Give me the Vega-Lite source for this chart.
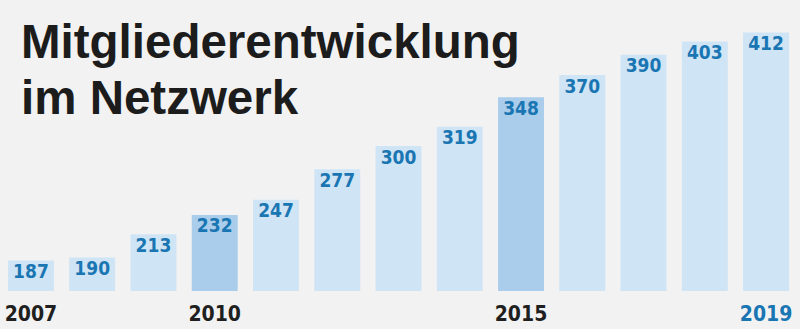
{
  "$schema": "https://vega.github.io/schema/vega-lite/v6.json",
  "autosize": "none",
  "width": 797,
  "height": 291,
  "padding": {"left": 0, "top": 0, "right": 3, "bottom": 38},
  "background": "#f2f2f2",
  "title": {
    "text": ["Mitgliederentwicklung", "im Netzwerk"],
    "anchor": "start",
    "frame": "group",
    "orient": "top",
    "font": "Liberation Sans",
    "fontSize": 47.5,
    "fontWeight": "bold",
    "color": "#1c1c1c",
    "lineHeight": 56,
    "baseline": "alphabetic",
    "offset": 0,
    "dx": 21,
    "dy": 161
  },
  "data": {
    "values": [
      {"year": 2007, "value": 187},
      {"year": 2008, "value": 190},
      {"year": 2009, "value": 213},
      {"year": 2010, "value": 232},
      {"year": 2011, "value": 247},
      {"year": 2012, "value": 277},
      {"year": 2013, "value": 300},
      {"year": 2014, "value": 319},
      {"year": 2015, "value": 348},
      {"year": 2016, "value": 370},
      {"year": 2017, "value": 390},
      {"year": 2018, "value": 403},
      {"year": 2019, "value": 412}
    ]
  },
  "encoding": {
    "x": {
      "field": "year",
      "type": "ordinal",
      "scale": {"paddingInner": 0.25, "paddingOuter": 0.13},
      "axis": {
        "title": null,
        "domain": false,
        "ticks": false,
        "tickSize": 0,
        "labelAngle": 0,
        "labelFont": "DejaVu Sans Condensed",
        "labelFontWeight": "bold",
        "labelFontSize": 21,
        "labelBaseline": "alphabetic",
        "labelPadding": 29,
        "labelExpr": "indexof([2007, 2010, 2015, 2019], +datum.value) >= 0 ? datum.label : ''",
        "labelColor": {"condition": {"test": "+datum.value == 2019", "value": "#1a76b3"}, "value": "#1f1f1f"}
      }
    },
    "y": {
      "field": "value",
      "type": "quantitative",
      "scale": {"domain": [157, 444], "zero": false, "nice": false},
      "axis": null
    }
  },
  "layer": [
    {
      "mark": {"type": "bar"},
      "encoding": {
        "y2": {"datum": 157},
        "color": {
          "condition": {"test": "datum.year == 2010 || datum.year == 2015", "value": "#a9cdea"},
          "value": "#cfe4f4"
        }
      }
    },
    {
      "mark": {
        "type": "text",
        "baseline": "alphabetic",
        "align": "center",
        "dy": 17.5,
        "font": "DejaVu Sans Condensed",
        "fontWeight": "bold",
        "fontSize": 19,
        "color": "#1a76b3"
      },
      "encoding": {"text": {"field": "value", "type": "quantitative"}}
    }
  ],
  "config": {"view": {"stroke": null}}
}
